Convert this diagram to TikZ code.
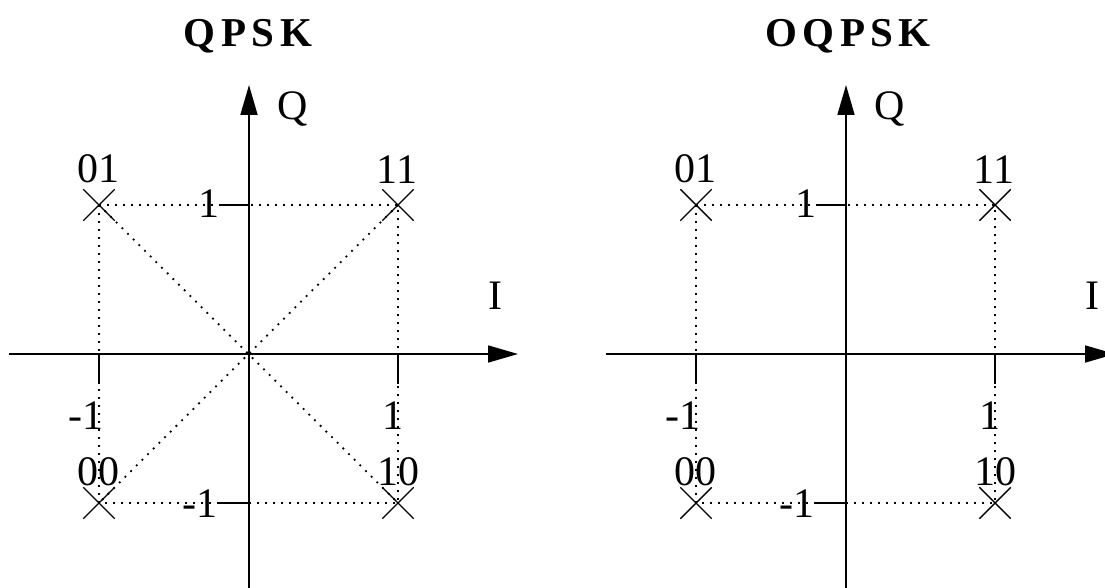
\documentclass[tikz,border=0pt]{standalone}
\usepackage{fontspec}
\setmainfont{Liberation Serif}
\usetikzlibrary{arrows.meta,shapes.misc}
\begin{document}
\begin{tikzpicture}[x=1pt,y=-1pt,
  axis/.style={line width=1.7pt,-{Triangle[length=30pt,width=17pt]}},
  tickline/.style={line width=1.7pt},
  guide/.style={line width=1.8pt,dash pattern=on 1.8pt off 6.2pt},
  ptx/.style={cross out,draw,minimum size=30pt,inner sep=0pt,line width=1.4pt},
  lbl/.style={inner sep=0pt,anchor=base,font=\fontsize{42}{42}\selectfont},
  ttl/.style={inner sep=0pt,anchor=base,font=\fontsize{41}{41}\selectfont\bfseries}
]
\useasboundingbox (0,0) rectangle (1105,588);
\clip (0,0) rectangle (1105,588);
\foreach \p/\s in {L/0,R/597}{
\begin{scope}[xshift=\s pt, name prefix=\p-]
  % axis end points
  \coordinate (xs) at (9,354);
  \coordinate (xe) at (518,354);
  \coordinate (ys) at (249,590);
  \coordinate (ye) at (249,85);
  \coordinate (O) at (249,354);
  % constellation points
  \node[ptx] (p01) at (99,205) {};
  \node[ptx] (p11) at (398,205) {};
  \node[ptx] (p00) at (99,503) {};
  \node[ptx] (p10) at (398,503) {};
  % tick marks
  \coordinate (txa) at (99,354);  \coordinate (txa2) at (99,384);
  \coordinate (txb) at (398,354); \coordinate (txb2) at (398,384);
  \coordinate (tya) at (249,205); \coordinate (tya2) at (219,205);
  \coordinate (tyb) at (249,503); \coordinate (tyb2) at (219,503);
  % dotted guides
  \draw[guide] (p01.center) -- (p11.center) -- (p10.center) -- (p00.center) -- cycle;
  % axes
  \draw[axis] (xs) -- (xe);
  \draw[axis] (ys) -- (ye);
  \draw[tickline] (txa) -- (txa2);
  \draw[tickline] (txb) -- (txb2);
  \draw[tickline] (tya) -- (tya2);
  \draw[tickline] (tyb) -- (tyb2);
  % labels
  \node[lbl] (l01) at (98,183) {01};
  \node[lbl] (l11) at (397,184) {11};
  \node[lbl] (l00) at (98,485) {00};
  \node[lbl] (l10) at (398,485) {10};
  \node[lbl] (ly1) at (209,218) {1};
  \node[lbl] (lym) at (200,517) {-1};
  \node[lbl] (lxm) at (86,429) {-1};
  \node[lbl] (lx1) at (393,429) {1};
  \node[lbl] (lQ) at (293,120) {Q};
  \node[lbl] (lI) at (495,309) {I};
\end{scope}
}
% diagonals (QPSK only)
\draw[guide] (L-p01.center) -- (L-p10.center);
\draw[guide] (L-p11.center) -- (L-p00.center);
% titles
\node[ttl] (t1) at (248,47) {Q\hspace{5.5pt}P\hspace{5.5pt}S\hspace{5.5pt}K};
\node[ttl] (t2) at (848,47) {O\hspace{5.5pt}Q\hspace{5.5pt}P\hspace{5.5pt}S\hspace{5.5pt}K};
\end{tikzpicture}
\end{document}
